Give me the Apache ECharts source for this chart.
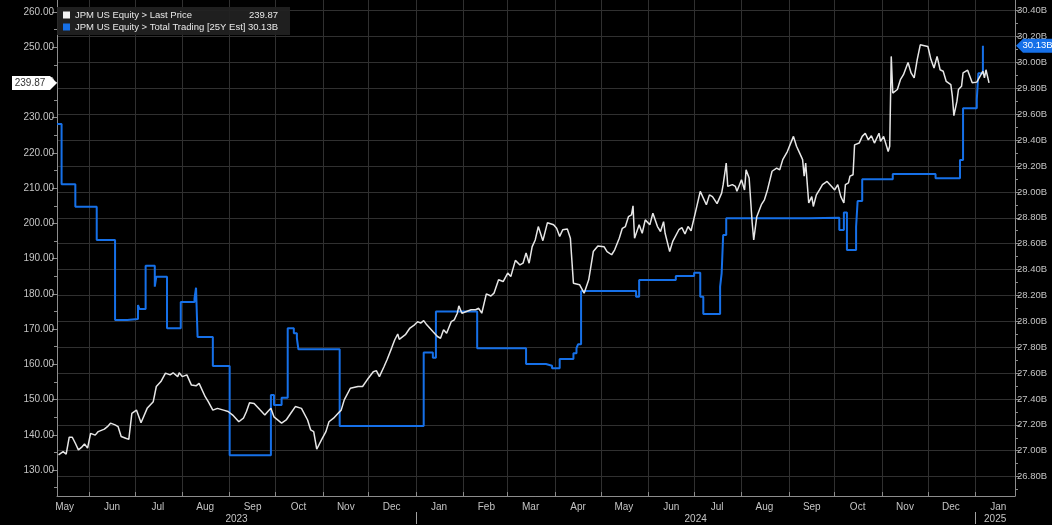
<!DOCTYPE html>
<html><head><meta charset="utf-8">
<script src="https://cdn.jsdelivr.net/npm/echarts@6/dist/echarts.min.js"></script>
<style>html,body{margin:0;padding:0;background:#000;overflow:hidden}#c{width:1052px;height:525px}</style>
</head><body><div id="c"></div>
<script>
const FONT = "'Liberation Sans Narrow', 'Liberation Sans', Arial, sans-serif";
const priceName = 'JPM US Equity > Last Price';
const tradeName = 'JPM US Equity > Total Trading [25Y Est]';

const xRange = ['2023-05-11', '2025-01-27'];

const lastPrice = [
['2023-05-12',134.3],['2023-05-15',135.2],['2023-05-17',134.5],['2023-05-19',139.3],['2023-05-21',139.3],
['2023-05-23',137.6],['2023-05-25',135.7],['2023-05-27',136.4],['2023-05-29',137.4],['2023-05-31',136.2],
['2023-06-02',140.4],['2023-06-05',139.9],['2023-06-07',140.9],['2023-06-11',141.6],['2023-06-13',142.3],
['2023-06-15',143.3],['2023-06-18',142.8],['2023-06-20',142.3],['2023-06-22',139.5],['2023-06-25',139.0],
['2023-06-27',138.7],['2023-06-29',146.1],['2023-07-02',147.0],['2023-07-05',143.4],['2023-07-09',147.5],
['2023-07-13',149.4],['2023-07-15',153.7],['2023-07-18',155.1],['2023-07-21',157.5],['2023-07-24',157.0],
['2023-07-26',157.6],['2023-07-29',156.5],['2023-07-30',157.6],['2023-08-01',156.5],['2023-08-04',157.0],
['2023-08-07',154.1],['2023-08-10',153.9],['2023-08-12',154.6],['2023-08-16',150.8],['2023-08-18',149.4],
['2023-08-21',147.0],['2023-08-24',147.5],['2023-08-28',147.0],['2023-08-31',146.6],['2023-09-03',145.6],
['2023-09-07',143.7],['2023-09-10',144.7],['2023-09-12',146.6],['2023-09-14',149.1],['2023-09-17',148.9],
['2023-09-21',147.0],['2023-09-24',145.6],['2023-09-26',146.6],['2023-09-28',147.5],['2023-09-30',145.1],
['2023-10-05',143.3],['2023-10-08',144.2],['2023-10-11',146.1],['2023-10-14',148.0],['2023-10-18',147.5],
['2023-10-22',144.2],['2023-10-24',141.4],['2023-10-26',140.9],['2023-10-28',135.9],['2023-10-31',138.5],
['2023-11-03',140.9],['2023-11-05',143.7],['2023-11-08',144.7],['2023-11-11',146.1],['2023-11-13',147.0],
['2023-11-15',149.9],['2023-11-19',153.2],['2023-11-24',153.7],['2023-11-27',153.7],['2023-11-30',155.6],
['2023-12-04',157.9],['2023-12-06',158.2],['2023-12-08',156.5],['2023-12-11',159.3],['2023-12-13',161.3],
['2023-12-16',164.6],['2023-12-18',166.9],['2023-12-20',168.6],['2023-12-21',167.1],['2023-12-25',168.4],
['2023-12-28',170.3],['2023-12-31',171.2],['2024-01-02',172.1],['2024-01-04',171.7],['2024-01-06',172.4],
['2024-01-08',171.2],['2024-01-12',169.3],['2024-01-15',167.9],['2024-01-17',167.4],['2024-01-19',169.8],
['2024-01-21',168.8],['2024-01-24',172.1],['2024-01-26',172.6],['2024-01-28',174.5],['2024-01-29',176.6],
['2024-01-31',174.5],['2024-02-03',175.0],['2024-02-06',175.5],['2024-02-09',175.5],['2024-02-11',175.9],
['2024-02-13',174.5],['2024-02-16',180.0],['2024-02-19',179.4],['2024-02-21',180.2],['2024-02-24',184.0],
['2024-02-27',183.5],['2024-03-01',185.9],['2024-03-03',184.9],['2024-03-06',189.5],['2024-03-09',188.2],
['2024-03-11',188.7],['2024-03-13',191.6],['2024-03-15',188.7],['2024-03-17',193.4],['2024-03-19',195.3],
['2024-03-21',199.1],['2024-03-24',195.1],['2024-03-27',200.2],['2024-03-31',199.6],['2024-04-02',198.6],
['2024-04-04',196.3],['2024-04-06',198.2],['2024-04-09',198.4],['2024-04-11',195.8],['2024-04-12',195.5],
['2024-04-13',183.0],['2024-04-17',182.6],['2024-04-20',180.2],['2024-04-23',184.0],['2024-04-26',192.0],
['2024-04-29',193.6],['2024-05-03',193.4],['2024-05-05',192.0],['2024-05-08',191.1],['2024-05-10',192.5],
['2024-05-13',195.8],['2024-05-15',198.6],['2024-05-17',199.1],['2024-05-19',201.9],['2024-05-21',202.4],
['2024-05-22',205.0],['2024-05-23',195.8],['2024-05-26',199.6],['2024-05-28',197.2],['2024-05-30',201.0],
['2024-06-02',199.6],['2024-06-04',202.9],['2024-06-07',199.1],['2024-06-09',197.7],['2024-06-11',200.5],
['2024-06-12',197.2],['2024-06-15',192.0],['2024-06-17',194.9],['2024-06-21',198.2],['2024-06-23',198.8],
['2024-06-25',197.0],['2024-06-27',199.1],['2024-06-29',197.9],['2024-07-02',203.4],['2024-07-05',209.1],
['2024-07-06',208.6],['2024-07-09',205.3],['2024-07-11',208.1],['2024-07-13',207.6],['2024-07-16',205.6],
['2024-07-19',208.6],['2024-07-20',211.0],['2024-07-22',217.1],['2024-07-23',210.5],['2024-07-26',211.0],
['2024-07-28',210.5],['2024-07-29',209.1],['2024-08-01',212.4],['2024-08-03',209.5],['2024-08-04',215.2],
['2024-08-06',212.9],['2024-08-08',200.1],['2024-08-09',195.3],['2024-08-11',201.9],['2024-08-14',205.3],
['2024-08-16',206.7],['2024-08-18',209.5],['2024-08-21',214.8],['2024-08-24',215.7],['2024-08-26',215.2],
['2024-08-28',218.1],['2024-08-31',220.4],['2024-09-04',224.7],['2024-09-06',221.9],['2024-09-08',220.0],
['2024-09-10',218.1],['2024-09-11',213.4],['2024-09-12',217.1],['2024-09-14',205.8],['2024-09-16',207.6],
['2024-09-17',204.8],['2024-09-19',208.1],['2024-09-21',209.5],['2024-09-23',211.0],['2024-09-26',211.9],
['2024-09-29',210.5],['2024-10-01',209.5],['2024-10-03',211.0],['2024-10-05',207.6],['2024-10-07',205.8],
['2024-10-08',211.0],['2024-10-10',211.5],['2024-10-11',213.4],['2024-10-13',213.8],['2024-10-14',222.3],
['2024-10-17',222.8],['2024-10-19',224.7],['2024-10-21',225.6],['2024-10-23',223.7],['2024-10-25',224.9],
['2024-10-27',222.8],['2024-10-30',225.6],['2024-10-31',223.3],['2024-11-02',224.7],['2024-11-05',220.4],
['2024-11-06',221.9],['2024-11-07',247.4],['2024-11-08',237.0],['2024-11-11',238.0],['2024-11-13',240.8],
['2024-11-15',242.2],['2024-11-18',245.7],['2024-11-19',245.6],['2024-11-20',242.7],['2024-11-22',241.3],
['2024-11-24',246.5],['2024-11-26',250.7],['2024-11-28',250.5],['2024-12-01',250.2],['2024-12-03',246.5],
['2024-12-05',244.1],['2024-12-07',247.4],['2024-12-09',243.6],['2024-12-11',243.2],['2024-12-13',240.3],
['2024-12-16',239.4],['2024-12-17',236.1],['2024-12-18',230.6],['2024-12-20',234.7],['2024-12-21',238.0],
['2024-12-23',238.9],['2024-12-24',242.7],['2024-12-27',243.5],['2024-12-30',239.9],['2025-01-02',240.1],
['2025-01-03',240.3],['2025-01-06',243.2],['2025-01-07',241.3],['2025-01-08',243.6],['2025-01-10',239.87]
];

const totalTrading = [
['2023-05-11',29.525],['2023-05-14',29.059],['2023-05-23',28.886],['2023-06-06',28.629],['2023-06-18',28.010],
['2023-06-26',28.018],['2023-07-03',28.126],['2023-07-04',28.095],['2023-07-08',28.430],['2023-07-14',28.268],
['2023-07-15',28.345],['2023-07-22',27.946],['2023-07-31',28.149],['2023-08-09',28.178],['2023-08-10',28.260],
['2023-08-11',27.879],['2023-08-21',27.655],['2023-09-01',26.965],['2023-09-28',27.431],['2023-09-30',27.353],
['2023-10-05',27.410],['2023-10-09',27.946],['2023-10-13',27.908],['2023-10-15',27.869],['2023-10-16',27.784],
['2023-11-12',27.191],['2024-01-06',27.758],['2024-01-12',27.719],['2024-01-14',28.075],['2024-02-10',27.792],
['2024-03-13',27.670],['2024-03-26',27.657],['2024-03-30',27.637],['2024-04-04',27.709],['2024-04-13',27.753],
['2024-04-15',27.792],['2024-04-16',27.822],['2024-04-18',28.234],['2024-05-24',28.190],['2024-05-26',28.319],
['2024-06-19',28.350],['2024-07-01',28.376],['2024-07-05',28.190],['2024-07-07',28.057],['2024-07-18',28.268],
['2024-07-19',28.371],['2024-07-20',28.667],['2024-07-22',28.796],['2024-09-14',28.801],['2024-10-04',28.706],
['2024-10-07',28.840],['2024-10-09',28.551],['2024-10-15',28.731],['2024-10-16',28.930],['2024-10-19',29.098],
['2024-11-08',29.139],['2024-12-06',29.105],['2024-12-22',29.247],['2024-12-24',29.646],['2025-01-02',29.716],
['2025-01-03',29.917],['2025-01-06',30.13]
];

const leftTicks = [130,140,150,160,170,180,190,200,210,220,230,240,250,260];
const leftMinorTicks = [125,135,145,155,165,175,185,195,205,215,225,235,245,255];
const leftRange = [122.62, 263.41];
const rightTicks = [26.8,27.0,27.2,27.4,27.6,27.8,28.0,28.2,28.4,28.6,28.8,29.0,29.2,29.4,29.6,29.8,30.0,30.2,30.4];
const rightMinorTicks = [26.7,26.9,27.1,27.3,27.5,27.7,27.9,28.1,28.3,28.5,28.7,28.9,29.1,29.3,29.5,29.7,29.9,30.1,30.3];
const rightRange = [26.65, 30.483];

const monthStarts = ['2023-06-01','2023-07-01','2023-08-01','2023-09-01','2023-10-01','2023-11-01','2023-12-01',
 '2024-01-01','2024-02-01','2024-03-01','2024-04-01','2024-05-01','2024-06-01','2024-07-01','2024-08-01',
 '2024-09-01','2024-10-01','2024-11-01','2024-12-01','2025-01-01'];
const monthMids = ['2023-05-16','2023-06-16','2023-07-16','2023-08-16','2023-09-16','2023-10-16','2023-11-16',
 '2023-12-16','2024-01-16','2024-02-16','2024-03-16','2024-04-16','2024-05-16','2024-06-16','2024-07-16',
 '2024-08-16','2024-09-16','2024-10-16','2024-11-16','2024-12-16','2025-01-16'];
const monthNames = ['May','Jun','Jul','Aug','Sep','Oct','Nov','Dec','Jan','Feb','Mar','Apr','May','Jun','Jul',
 'Aug','Sep','Oct','Nov','Dec','Jan'];
const yearNames = ['2023','2024','2025'];
const yearStarts = ['2024-01-01','2025-01-01'];

function t(s){ const p = s.split('-').map(Number); return Date.UTC(p[0], p[1]-1, p[2]); }

const xMin = t(xRange[0]), xMax = t(xRange[1]);
const monthMidVals = monthMids.map(t);
const bounds = [xMin].concat(yearStarts.map(t)).concat([xMax]);
const yearMids = yearNames.map((y,i)=> Math.round((bounds[i]+bounds[i+1])/2));
function nearestLabel(v, vals, names){
  let bi = 0, bd = Infinity;
  vals.forEach((x,i)=>{ const d = Math.abs(x - v); if (d < bd){ bd = d; bi = i; } });
  return names[bi];
}

const priceData = lastPrice.map(d=>[t(d[0]), d[1]]);
const tradeData = totalTrading.map(d=>[t(d[0]), d[1]]);
const lastPriceValue = lastPrice[lastPrice.length-1][1];
const lastTradeValue = totalTrading[totalTrading.length-1][1];
const fmtPrice = v => Number(v).toFixed(2);
const fmtTrade = v => Number(v).toFixed(2) + 'B';
const legendValues = {};
legendValues[priceName] = fmtPrice(lastPriceValue);
legendValues[tradeName] = fmtTrade(lastTradeValue);

const AXIS = '#8c8c8c', LABEL = '#c4c4c4', GRID = '#303030';
const WHITE = '#e6e6e6', BLUE = '#1670e8';
const LFS = 9.5;

const chart = echarts.init(document.getElementById('c'), null, {renderer:'canvas'});
chart.setOption({
  backgroundColor: '#000',
  animation: false,
  textStyle: {fontFamily: FONT},
  grid: {left: 57, right: 37, top: 0, bottom: 29, containLabel: false, outerBoundsMode: 'none'},
  legend: {
    left: 57, top: 7, orient: 'vertical', data: [priceName, tradeName],
    backgroundColor: 'rgba(34,34,34,0.92)', padding: [2, 12, 2, 6], itemGap: 0,
    itemWidth: 7, itemHeight: 7, icon: 'rect', selectedMode: false,
    formatter: name => '{n|' + name + '}{v|' + legendValues[name] + '}',
    textStyle: {color: '#e8e8e8', fontSize: LFS, fontFamily: FONT, lineHeight: 12,
      rich: {n: {width: 172, fontSize: LFS, fontFamily: FONT, color: '#e8e8e8'},
             v: {width: 31, align: 'right', fontSize: LFS, fontFamily: FONT, color: '#e8e8e8'}}}
  },
  xAxis: [
    {type: 'value', min: xMin, max: xMax, position: 'bottom', scale: true,
     axisLine: {show: true, onZero: false, lineStyle: {color: AXIS, width: 1}},
     axisTick: {show: true, customValues: monthStarts.map(t), inside: true, length: 4, lineStyle: {color: AXIS}},
     axisLabel: {show: true, customValues: monthMidVals, formatter: v => nearestLabel(v, monthMidVals, monthNames),
       color: LABEL, fontSize: 10, fontFamily: FONT, margin: 6},
     splitLine: {show: true, lineStyle: {color: GRID, width: 1}}},
    {type: 'value', min: xMin, max: xMax, position: 'bottom', offset: 16, scale: true,
     axisLine: {show: false, onZero: false},
     axisTick: {show: true, customValues: yearStarts.map(t), length: 12, lineStyle: {color: '#a0a0a0'}},
     axisLabel: {show: true, customValues: yearMids, formatter: v => nearestLabel(v, yearMids, yearNames),
       color: LABEL, fontSize: 10, fontFamily: FONT, margin: 2},
     splitLine: {show: false}}
  ],
  yAxis: [
    {type: 'value', position: 'left', min: leftRange[0], max: leftRange[1],
     axisLine: {show: true, onZero: false, lineStyle: {color: AXIS}},
     axisTick: {show: true, customValues: leftTicks, length: 5, lineStyle: {color: AXIS}},
     axisLabel: {show: true, customValues: leftTicks, formatter: fmtPrice, color: LABEL, fontSize: 10, fontFamily: FONT, margin: 3},
     splitLine: {show: false}},
    {type: 'value', position: 'right', min: rightRange[0], max: rightRange[1],
     axisLine: {show: true, onZero: false, lineStyle: {color: AXIS}},
     axisTick: {show: true, customValues: rightTicks, length: 5, lineStyle: {color: AXIS}},
     axisLabel: {show: true, customValues: rightTicks, formatter: fmtTrade, color: LABEL, fontSize: 9.5, fontFamily: FONT, margin: 2},
     splitLine: {show: true, lineStyle: {color: GRID, width: 1}}},
    {type: 'value', position: 'left', min: leftRange[0], max: leftRange[1],
     axisLine: {show: false}, axisLabel: {show: false}, splitLine: {show: false},
     axisTick: {show: true, customValues: leftMinorTicks, length: 3, lineStyle: {color: AXIS}}},
    {type: 'value', position: 'right', min: rightRange[0], max: rightRange[1],
     axisLine: {show: false}, axisLabel: {show: false}, splitLine: {show: false},
     axisTick: {show: true, customValues: rightMinorTicks, length: 3, lineStyle: {color: AXIS}}}
  ],
  series: [
    {name: tradeName, type: 'line', xAxisIndex: 0, yAxisIndex: 1, data: tradeData, step: 'end',
     symbol: 'none', showSymbol: false, color: BLUE, lineStyle: {color: BLUE, width: 2}, z: 2},
    {name: priceName, type: 'line', xAxisIndex: 0, yAxisIndex: 0, data: priceData,
     symbol: 'none', showSymbol: false, color: '#f4f4f4', lineStyle: {color: WHITE, width: 1.5}, z: 3}
  ]
});

// last-value tags on the axes, positioned through the axis scales
const yL = chart.convertToPixel({yAxisIndex: 0}, lastPriceValue);
const yR = chart.convertToPixel({yAxisIndex: 1}, lastTradeValue);
const xL = chart.convertToPixel({xAxisIndex: 0}, xMin);
const xR = chart.convertToPixel({xAxisIndex: 0}, xMax);
const W = chart.getWidth();
chart.setOption({
  graphic: [
    {type: 'polygon', z: 100, shape: {points: [[xL-45, yL-7], [xL-7, yL-7], [xL, yL], [xL-7, yL+7], [xL-45, yL+7]]},
     style: {fill: '#ffffff'}},
    {type: 'text', z: 101, x: xL-27, y: yL, style: {text: fmtPrice(lastPriceValue), fill: '#333', font: '10px ' + FONT,
      align: 'center', verticalAlign: 'middle', textAlign: 'center', textVerticalAlign: 'middle'}},
    {type: 'polygon', z: 100, shape: {points: [[xR+1, yR], [xR+8, yR-7], [W, yR-7], [W, yR+7], [xR+8, yR+7]]},
     style: {fill: BLUE}},
    {type: 'text', z: 101, x: (xR+8+W)/2, y: yR, style: {text: fmtTrade(lastTradeValue), fill: '#ffffff', font: '9.5px ' + FONT,
      align: 'center', verticalAlign: 'middle', textAlign: 'center', textVerticalAlign: 'middle'}}
  ]
});
</script>
</body></html>
